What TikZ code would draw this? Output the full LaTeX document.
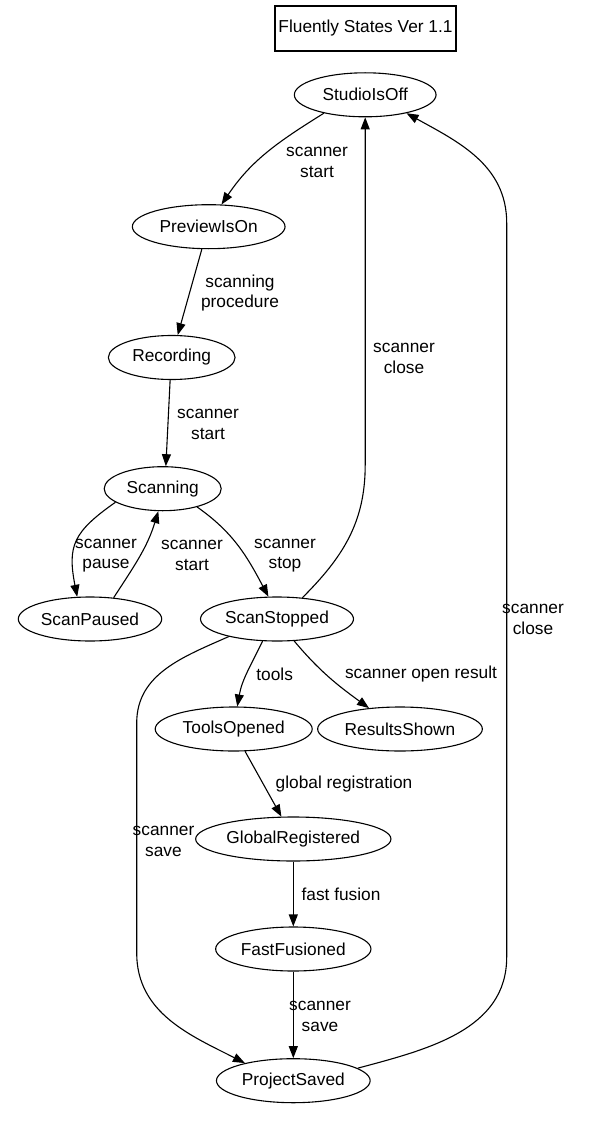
\documentclass[tikz,border=0pt]{standalone}
\usepackage{fontspec}
\setmainfont{Liberation Sans}
\usetikzlibrary{arrows.meta,shapes.geometric}
\newcommand\dgfont{\fontsize{17.3}{20.6}\selectfont}
\begin{document}
\begin{tikzpicture}[x=1pt,y=1pt,
  state/.style={draw, ellipse, line width=1.1pt, inner sep=0pt, minimum height=44pt, font=\dgfont},
  lbl/.style={align=center, inner sep=0pt, font=\dgfont},
  edge/.style={line width=1.1pt, -{Triangle[length=12pt,width=9pt]}},
  titlebox/.style={draw, line width=1.1pt, minimum width=181pt, minimum height=45pt, inner sep=0pt, font=\dgfont}
]
\fill[white] (0,0) rectangle (595,-1126);
\useasboundingbox (0,0) rectangle (595,-1126);

\node[titlebox] (title) at (365.5,-28.5) {Fluently States Ver 1.1};

\node[state, minimum width=141.7pt] (studio) at (365.2,-94.8) {StudioIsOff};
\node[state, minimum width=152.7pt] (prev) at (208.7,-226.7) {PreviewIsOn};
\node[state, minimum width=126.7pt] (rec) at (171.7,-357.5) {Recording};
\node[state, minimum width=117pt] (scan) at (162.7,-488.7) {Scanning};
\node[state, minimum width=143.4pt] (pause) at (90,-619) {ScanPaused};
\node[state, minimum width=153pt] (stop) at (277,-619) {ScanStopped};
\node[state, minimum width=157pt] (tools) at (233.7,-729) {ToolsOpened};
\node[state, minimum width=164.7pt] (res) at (400,-729) {ResultsShown};
\node[state, minimum width=195.3pt] (gr) at (293.3,-839) {GlobalRegistered};
\node[state, minimum width=155.3pt] (ff) at (293.3,-949) {FastFusioned};
\node[state, minimum width=153.7pt] (ps) at (293.3,-1080.7) {ProjectSaved};

\node[lbl] (l1) at (317,-162.5) {scanner\\start};
\node[lbl] (l2) at (240,-293) {scanning\\procedure};
\node[lbl] (l3) at (208,-424.5) {scanner\\start};
\node[lbl] (l4) at (106,-555.5) {scanner\\pause};
\node[lbl] (l5) at (192,-555.5) {scanner\\start};
\node[lbl] (l6) at (285,-555.5) {scanner\\stop};
\node[lbl] (l7) at (404,-358.5) {scanner\\close};
\node[lbl] (l8) at (274.7,-674) {tools};
\node[lbl] (l9) at (421,-674) {scanner open result};
\node[lbl] (l10) at (344,-784.3) {global registration};
\node[lbl] (l11) at (341,-894.3) {fast fusion};
\node[lbl] (l12) at (320,-1016.5) {scanner\\save};
\node[lbl] (l13) at (163.5,-841.5) {scanner\\save};
\node[lbl] (l14) at (533,-619.5) {scanner\\close};

\coordinate (k7) at (365.2,-465);
\coordinate (k13a) at (136.7,-723);
\coordinate (k13b) at (136.7,-953);
\coordinate (k14a) at (506.7,-957);
\coordinate (k14b) at (506.7,-223);

\draw[edge] (studio.204) to[out=212,in=56] (prev.60);
\draw[edge] (prev.253) -- (rec.75);
\draw[edge] (rec.266) -- (scan.82);
\draw[edge] (scan.196) to[out=215,in=101,looseness=1.3] (pause.120);
\draw[edge] (pause.42) to[out=57,in=253] (scan.259);
\draw[edge] (scan.332) to[out=325,in=118] (stop.111);
\draw[edge] (stop.40) to[out=45,in=-90] (k7) -- (studio.south);
\draw[edge] (stop.237) to[out=244,in=80] (tools.81);
\draw[edge] (stop.308) to[out=310,in=144] (res.146);
\draw[edge] (tools.297) -- (gr.118);
\draw[edge] (gr.south) -- (ff.north);
\draw[edge] (ff.south) -- (ps.north);
\draw[edge] (stop.200) to[out=204,in=90] (k13a) -- (k13b) to[out=-90,in=153] (ps.160);
\draw[edge] (ps.11) to[out=15,in=-90] (k14a) -- (k14b) to[out=90,in=331] (studio.336);
\end{tikzpicture}
\end{document}
